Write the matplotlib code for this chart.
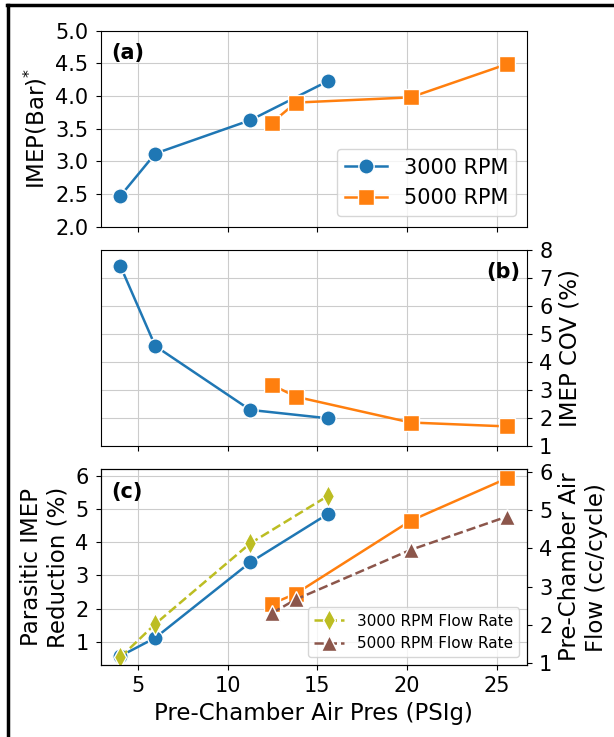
import numpy as np
import matplotlib.pyplot as plt
from matplotlib.lines import Line2D

# dane
x3 = [4.0, 5.95, 11.25, 15.6]
x5 = [12.45, 13.8, 20.2, 25.6]
imep3 = [2.47, 3.12, 3.63, 4.23]
imep5 = [3.59, 3.90, 3.98, 4.49]
cov3 = [7.43, 4.57, 2.29, 1.99]
cov5 = [3.19, 2.76, 1.84, 1.70]
par3 = [0.57, 1.12, 3.39, 4.85]
par5 = [2.14, 2.45, 4.64, 5.92]
flow3 = [1.16, 2.03, 4.13, 5.37]
flow5 = [2.31, 2.67, 3.96, 4.83]

fs = 15
plt.rcParams['font.size'] = fs
plt.rcParams['axes.labelsize'] = 16.5
plt.rcParams['ytick.major.pad'] = 5.5
plt.rcParams['xtick.major.pad'] = 4.5

fig = plt.figure(figsize=(6.14, 7.37), dpi=100)
L, R = 0.1645, 0.8577
ax1 = fig.add_axes([L, 0.6924, R - L, 0.9583 - 0.6924])
ax2 = fig.add_axes([L, 0.3948, R - L, 0.6608 - 0.3948], sharex=ax1)
ax3 = fig.add_axes([L, 0.0977, R - L, 0.3632 - 0.0977], sharex=ax1)

mk = dict(markersize=11, markeredgecolor='white', markeredgewidth=1, linewidth=1.8)
c3, c5 = 'tab:blue', 'tab:orange'

# (a)
ax1.plot(x3, imep3, marker='o', color=c3, label='3000 RPM', **mk)
ax1.plot(x5, imep5, marker='s', color=c5, label='5000 RPM', **mk)
ax1.set_ylim(2.0, 5.0)
ax1.set_yticks(np.arange(2.0, 5.01, 0.5))
ax1.set_ylabel('IMEP(Bar)$^{*}$')
ax1.grid(True, color='#cccccc')
ax1.legend(loc='lower right', fontsize=fs)
ax1.text(0.023, 0.886, '(a)', transform=ax1.transAxes, fontweight='bold', va='center', ha='left')
ax1.tick_params(labelbottom=False)

# (b)
ax2.plot(x3, cov3, marker='o', color=c3, **mk)
ax2.plot(x5, cov5, marker='s', color=c5, **mk)
ax2.set_ylim(1, 8)
ax2.set_yticks(range(1, 9))
ax2.yaxis.tick_right()
ax2.yaxis.set_label_position('right')
ax2.set_ylabel('IMEP COV (%)')
ax2.grid(True, color='#cccccc')
ax2.text(0.986, 0.89, '(b)', transform=ax2.transAxes, fontweight='bold', va='center', ha='right')
ax2.tick_params(labelbottom=False)

# (c)
ax3.plot(x3, par3, marker='o', color=c3, **mk)
ax3.plot(x5, par5, marker='s', color=c5, **mk)
ax3.set_ylabel('Parasitic IMEP\nReduction (%)')
ax3.set_xlabel('Pre-Chamber Air Pres (PSIg)')
ax3.set_yticks([1, 2, 3, 4, 5, 6])
ax3.grid(True, color='#cccccc')
ax3.text(0.023, 0.886, '(c)', transform=ax3.transAxes, fontweight='bold', va='center', ha='left')

ax4 = ax3.twinx()
ax4.plot(x3, flow3, marker='d', color='tab:olive', linestyle='--', label='3000 RPM Flow Rate', **mk)
ax4.plot(x5, flow5, marker='^', color='tab:brown', linestyle='--', label='5000 RPM Flow Rate', **mk)
ax4.set_ylim(0.96, 6.06)
ax4.set_yticks([1, 2, 3, 4, 5, 6])
ax4.set_ylabel('Pre-Chamber Air\nFlow (cc/cycle)')
ax4.legend(loc='lower right', fontsize=11)

ax1.set_xticks([5, 10, 15, 20, 25])

# ramka
fig.add_artist(Line2D([7 / 614, 1.0], [1 - 5 / 737, 1 - 5 / 737], color='black', linewidth=2.5))
fig.add_artist(Line2D([8 / 614, 8 / 614], [0.0, 1 - 5 / 737], color='black', linewidth=2.5))

plt.savefig('out.png', dpi=100)
